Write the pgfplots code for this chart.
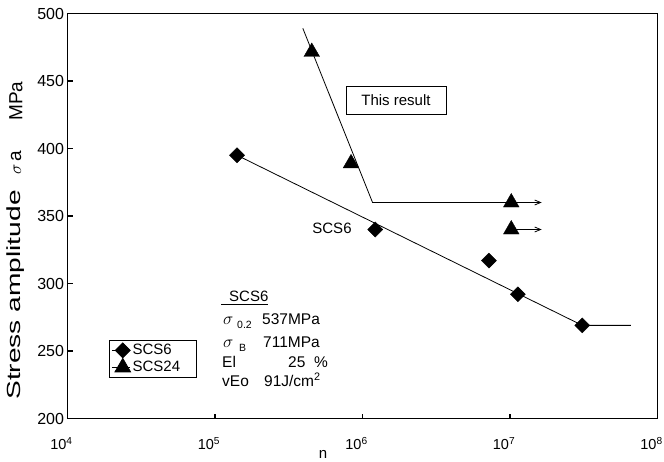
\documentclass[border=0pt]{standalone}
\usepackage{fontspec}
\setmainfont{Liberation Sans}
\usepackage{graphicx}
\usepackage{pgfplots}
\pgfplotsset{compat=1.18}
\usetikzlibrary{arrows.meta}
\newcommand{\fs}[1]{\fontsize{#1}{#1}\selectfont}
\begin{document}
\begin{tikzpicture}
\begin{axis}[
  at={(67.5pt,42.5pt)}, anchor=south west,
  scale only axis, width=590pt, height=405pt,
  xmode=log, xmin=1e4, xmax=1e8, ymin=200, ymax=500,
  axis line style={line width=1.5pt},
  xtick={1e4,1e5,1e6,1e7,1e8},
  xticklabels={10\textsuperscript{4},10\textsuperscript{5},10\textsuperscript{6},10\textsuperscript{7},10\textsuperscript{8}},
  ytick={200,250,300,350,400,450,500},
  tick align=inside, xtick pos=bottom, ytick pos=left,
  major tick length=5pt, minor tick length=0pt,
  tick style={line width=1.2pt, black},
  /pgf/number format/assume math mode=true,
  yticklabel style={font=\fs{16}},
  xticklabel style={font=\fs{14.5}, xshift=-6pt, yshift=-15pt},
  legend style={at={(axis description cs:0.0703,0.1938)}, anchor=north west,
    draw=black, line width=0.8pt, font=\fs{15}, inner sep=2pt, row sep=0pt},
  legend cell align=left,
  legend image code/.code={\path (0pt,0pt) -- (18pt,0pt); \draw[#1] plot coordinates {(11pt,0pt)};},
]
\addplot[black, line width=0.8pt, forget plot] coordinates {(1.41e5,395) (3.09e7,269) (6.6e7,269)};
\addplot[black, line width=0.8pt, forget plot, -{Straight Barb[length=6pt,width=5pt]}] coordinates {(3.94e5,489) (1.17e6,360) (1.64e7,360)};
\addplot[black, line width=0.8pt, forget plot, -{Straight Barb[length=6pt,width=5pt]}] coordinates {(1.02e7,340) (1.64e7,340)};
\addplot[only marks, mark=square*, mark size=5.3pt, mark options={rotate=45, fill=black, draw=black}]
  coordinates {(1.41e5,395) (1.22e6,340) (7.2e6,317) (1.13e7,292) (3.09e7,269)};
\addlegendentry{\makebox[60pt][l]{SCS6}}
\addplot[only marks, mark=triangle*, mark size=9pt, mark options={fill=black, draw=black}]
  coordinates {(4.53e5,471.5) (8.36e5,389) (1.02e7,360) (1.02e7,340)};
\addlegendentry{\makebox[60pt][l]{SCS24}}
\end{axis}
% y label
\node[rotate=90, inner sep=0, font=\fs{19}] at (16pt,360pt) {MPa};
\node[rotate=90, inner sep=0, font=\fs{19}] at (16pt,298.5pt) {$\sigma$\,a};
\node[rotate=90, inner sep=0, font=\fs{19}] at (16pt,166pt) {\scalebox{1.48}[1]{Stress amplitude}};
% x label
\node[anchor=base, inner sep=0, font=\fs{15}] at (323pt,2.5pt) {n};
% annotation
\node[draw, line width=0.7pt, minimum width=100pt, minimum height=28pt, font=\fs{15}] at (396pt,361pt) {This result};
\node[font=\fs{15}] at (332pt,232.7pt) {SCS6};
% property table
\node[anchor=base west, inner sep=0, font=\fs{15}] at (229pt,159pt) {SCS6};
\draw[line width=0.7pt] (221pt,156.5pt) -- (268pt,156.5pt);
\node[anchor=base west, inner sep=0, font=\fs{18}] at (223pt,136pt) {$\sigma$};
\node[anchor=base west, inner sep=0, font=\fs{10.5}] at (237pt,132pt) {0.2};
\node[anchor=base west, inner sep=0, font=\fs{15.5}] at (262pt,136pt) {537MPa};
\node[anchor=base west, inner sep=0, font=\fs{18}] at (223pt,114pt) {$\sigma$};
\node[anchor=base west, inner sep=0, font=\fs{10.5}] at (239pt,110pt) {B};
\node[anchor=base west, inner sep=0, font=\fs{15.5}] at (263pt,114pt) {711MPa};
\node[anchor=base west, inner sep=0, font=\fs{15.5}] at (222pt,94pt) {El};
\node[anchor=base west, inner sep=0, font=\fs{15.5}] at (288pt,94pt) {25};
\node[anchor=base west, inner sep=0, font=\fs{15.5}] at (314pt,94pt) {\%};
\node[anchor=base west, inner sep=0, font=\fs{15.5}] at (222pt,75pt) {vEo};
\node[anchor=base west, inner sep=0, font=\fs{15.5}] at (264pt,75pt) {91J/cm\textsuperscript{2}};
\pgfresetboundingbox
\path[use as bounding box] (0pt,0pt) rectangle (664pt,461pt);
\end{tikzpicture}
\end{document}
